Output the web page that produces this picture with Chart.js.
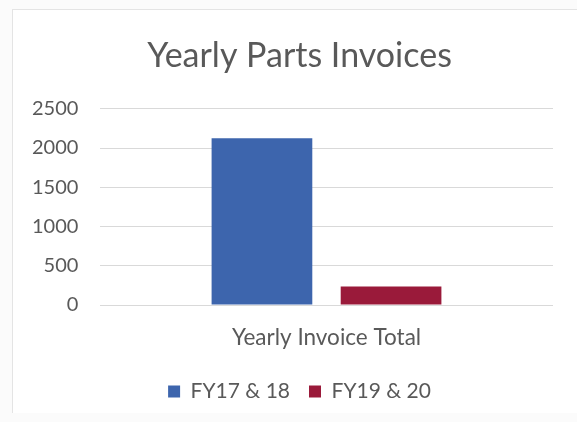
<!DOCTYPE html>
<html>
<head>
<meta charset="utf-8">
<script src="https://cdn.jsdelivr.net/npm/chart.js@4"></script>
<style>
    body {
        margin: 0;
        background: #fbfbfb;
    }

    .chartBox {
        position: absolute;
        left: 12px;
        top: 9px;
        width: 565px;
        height: 403px;
        background: #ffffff;
        border-top: 1px solid #e4e4e4;
        border-left: 1px solid #e4e4e4;
    }
</style>
</head>
<body>
<div class="chartBox">
    <canvas id="myChart" width="564" height="402"></canvas>
</div>
<script>
let categories = ['Yearly Invoice Total'];
let seriesNames = ['FY17 & 18', 'FY19 & 20'];
let fy1718Values = [2125];
let fy1920Values = [235];
let yTicks = [0, 500, 1000, 1500, 2000, 2500];

let barColors = ['#3d65ad', '#9a1a3a'];
let textColor = '#595959';

/*Chart Section*/

function getDatasets() {
    let values = [fy1718Values, fy1920Values];
    return seriesNames.map((name, i) => ({
        label: name,
        data: values[i],
        backgroundColor: barColors[i],
        borderWidth: 0,
        categoryPercentage: 0.57,
        barPercentage: 0.78
    }));
}


function setChart() {
    const ctx = document.getElementById('myChart');
    new Chart(ctx, {
        type: 'bar',
        data: {
            labels: categories,
            datasets: getDatasets()
        },
        options: {
            responsive: false,
            animation: false,
            layout: {
                padding: { left: 33, right: 24, top: 26, bottom: 0 }
            },
            plugins: {
                title: {
                    display: true,
                    text: 'Yearly Parts Invoices',
                    color: textColor,
                    font: { family: 'Lato', size: 34, weight: 'normal' },
                    padding: { top: 0, bottom: 32 }
                },
                legend: {
                    position: 'bottom',
                    labels: {
                        color: textColor,
                        font: { family: 'Lato', size: 21 },
                        boxWidth: 12,
                        boxHeight: 12,
                        padding: 19
                    }
                },
                tooltip: { enabled: false }
            },
            scales: {
                x: {
                    grid: { display: false },
                    border: { display: false },
                    ticks: {
                        color: textColor,
                        font: { family: 'Lato', size: 22.5 },
                        padding: 11
                    }
                },
                y: {
                    min: 0,
                    max: 2500,
                    afterFit: (scale) => { scale.width = 54; },
                    afterBuildTicks: (scale) => {
                        scale.ticks = yTicks.map(v => ({ value: v }));
                    },
                    grid: { color: '#d9d9d9', drawTicks: false },
                    border: { display: false },
                    ticks: {
                        // mirrored so the labels are not clipped to the narrow axis box
                        mirror: true,
                        crossAlign: 'far',
                        color: textColor,
                        font: { family: 'Lato', size: 20 },
                        padding: -68,
                        callback: (value) => String(value)
                    }
                }
            }
        }
    });
}

setChart();
</script>
</body>
</html>
